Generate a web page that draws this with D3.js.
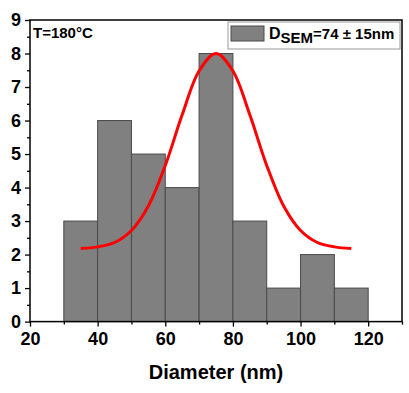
<!DOCTYPE html>
<html>
<head>
<meta charset="utf-8">
<script src="https://cdn.jsdelivr.net/npm/d3@7"></script>
<style>
  body { margin: 0; background: #fff; }
  text { font-family: "Liberation Sans", Arial, sans-serif; font-weight: bold; }
</style>
</head>
<body>
<svg id="chart" width="409" height="393"></svg>
<script>
// ------- data -------
var binStarts = [30, 40, 50, 60, 70, 80, 90, 100, 110];
var binWidth = 10;
var counts = [3, 6, 5, 4, 8, 3, 1, 2, 1];

// gaussian fit line
var fitX = [35, 40, 45, 50, 55, 60, 65, 70, 75, 80, 85, 90, 95, 100, 105, 110, 115];
var fitY = [2.18, 2.23, 2.36, 2.72, 3.45, 4.66, 6.17, 7.48, 8.0, 7.48, 6.17, 4.66, 3.45, 2.72, 2.36, 2.23, 2.18];

var xTicks = [20, 40, 60, 80, 100, 120];
var yTicks = [0, 1, 2, 3, 4, 5, 6, 7, 8, 9];

var margin = { left: 30, right: 7, top: 20, bottom: 72 };
var width = 409, height = 393;

var svg = d3.select("#chart");

var x = d3.scaleLinear().domain([20, 130]).range([margin.left, width - margin.right]);
var y = d3.scaleLinear().domain([0, 9]).range([height - margin.bottom + 0.6, margin.top]);

// ------- bars -------
svg.selectAll("rect.bar")
    .data(counts)
    .enter()
    .append("rect")
    .attr("class", "bar")
    .attr("x", function (d, i) { return x(binStarts[i]); })
    .attr("width", function (d, i) { return x(binStarts[i] + binWidth) - x(binStarts[i]); })
    .attr("y", function (d) { return y(d); })
    .attr("height", function (d) { return y(0) - y(d); })
    .style("fill", "#808080")
    .style("stroke", "#4a4a4a")
    .style("stroke-width", 1);

// ------- fit line -------
var line = d3.line()
    .x(function (d) { return x(d[0]); })
    .y(function (d) { return y(d[1]); })
    .curve(d3.curveCatmullRom);

svg.append("path")
    .datum(fitX.map(function (v, i) { return [v, fitY[i]]; }))
    .attr("d", line)
    .style("fill", "none")
    .style("stroke", "#ff0000")
    .style("stroke-width", 3);

// ------- axes -------
var xAxis = svg.append("g")
    .attr("transform", "translate(0," + y(0) + ")")
    .call(d3.axisBottom(x).tickValues(xTicks).tickSize(5).tickPadding(6));
xAxis.selectAll("text").style("font-size", "18px").style("fill", "#000");

svg.append("g")
    .attr("transform", "translate(0," + y(0) + ")")
    .call(d3.axisBottom(x).tickValues([30, 50, 70, 90, 110, 130]).tickSize(3).tickFormat(""));

var yAxis = svg.append("g")
    .attr("transform", "translate(" + x(20) + ",0)")
    .call(d3.axisLeft(y).tickValues(yTicks).tickSize(5).tickPadding(4));
yAxis.selectAll("text").style("font-size", "18px").style("fill", "#000");

svg.append("g")
    .attr("transform", "translate(" + x(20) + ",0)")
    .call(d3.axisLeft(y).tickValues(d3.range(0.5, 9, 1)).tickSize(3).tickFormat(""));

svg.selectAll(".domain").remove();
svg.selectAll(".tick line").style("stroke", "#000").style("stroke-width", 1.3);

// frame
svg.append("rect")
    .attr("x", x(20))
    .attr("y", y(9))
    .attr("width", x(130) - x(20))
    .attr("height", y(0) - y(9))
    .style("fill", "none")
    .style("stroke", "#000")
    .style("stroke-width", 1.5);

svg.append("text")
    .attr("x", (x(20) + x(130)) / 2)
    .attr("y", 379)
    .attr("text-anchor", "middle")
    .style("font-size", "20px")
    .text("Diameter (nm)");

svg.append("text")
    .attr("x", 33)
    .attr("y", 38)
    .style("font-size", "15px")
    .text("T=180°C");

// ------- legend -------
var lg = svg.append("g").attr("transform", "translate(228,22)");
lg.append("rect")
    .attr("width", 172).attr("height", 27)
    .style("fill", "#fff").style("stroke", "#999").style("stroke-width", 1);
lg.append("rect")
    .attr("x", 3).attr("y", 4).attr("width", 33).attr("height", 15)
    .style("fill", "#808080").style("stroke", "#4a4a4a");
var lt = lg.append("text").attr("x", 41).attr("y", 17).style("font-size", "16px");
lt.append("tspan").text("D");
lt.append("tspan").attr("dy", 4).style("font-size", "15px").text("SEM");
lt.append("tspan").attr("dy", -4).style("font-size", "15px").text("=74 ± 15nm");
</script>
</body>
</html>
